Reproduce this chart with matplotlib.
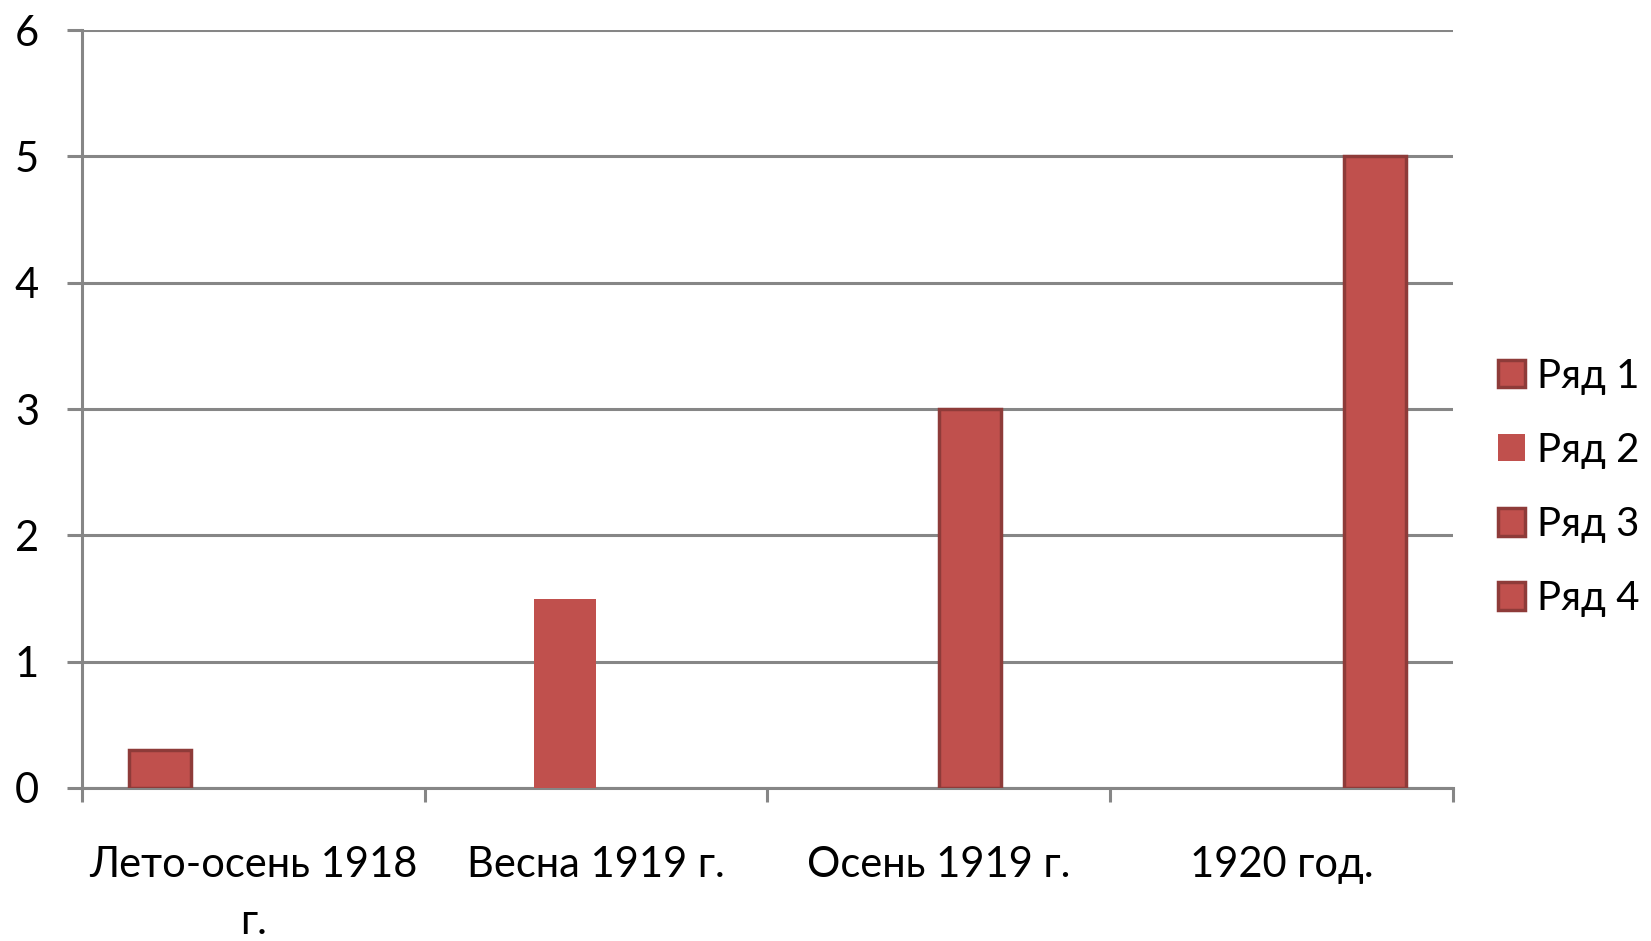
import numpy as np
import matplotlib.pyplot as plt
from matplotlib.patches import Patch

# data
categories = ['Лето-осень 1918\nг.', 'Весна 1919 г.', 'Осень 1919 г.', '1920 год.']
series_names = ['Ряд 1', 'Ряд 2', 'Ряд 3', 'Ряд 4']
ryad1 = [0.3, 0, 0, 0]
ryad2 = [0, 1.5, 0, 0]
ryad3 = [0, 0, 3, 0]
ryad4 = [0, 0, 0, 5]
y_ticks = [0, 1, 2, 3, 4, 5, 6]

plt.rcParams['font.family'] = ['Lato', 'DejaVu Sans']

face = '#C0504D'
edge = '#8E3B39'
grid_col = '#868686'

fig = plt.figure(figsize=(16.51, 9.41), dpi=100)
ax = fig.add_axes([0.0497, 0.1626, 0.8303, 0.8054])

w = 1 / 5.5
x = np.arange(len(categories)) + 0.5
all_series = [ryad1, ryad2, ryad3, ryad4]
edges = [edge, 'none', edge, edge]
for j, vals in enumerate(all_series):
    vals = np.array(vals, dtype=float)
    mask = vals > 0
    ax.bar(x[mask] + (j - 1.5) * w, vals[mask], width=w, color=face,
           edgecolor=edges[j], linewidth=2.5, zorder=3)

ax.set_xlim(0, 4)
ax.set_ylim(0, 6)
ax.set_yticks(y_ticks)
ax.yaxis.grid(True, color=grid_col, linewidth=2.2)
ax.set_axisbelow(True)
ax.tick_params(axis='y', length=11, width=2.2, color=grid_col, pad=20, labelsize=30)

ax.set_xticks(range(5))
ax.set_xticklabels([])
ax.set_xticks(x, minor=True)
ax.set_xticklabels(categories, minor=True, fontsize=30, linespacing=1.6)
ax.tick_params(axis='x', which='major', length=10, width=2.2, color=grid_col)
ax.tick_params(axis='x', which='minor', length=0, pad=42)

for s in ['top', 'right']:
    ax.spines[s].set_visible(False)
for s in ['left', 'bottom']:
    ax.spines[s].set_color(grid_col)
    ax.spines[s].set_linewidth(2.2)

handles = [Patch(facecolor=face, edgecolor=e, linewidth=2.5) for e in edges]
ax.legend(handles, series_names, loc='center left', bbox_to_anchor=(0.895, 0.482),
          bbox_transform=fig.transFigure, frameon=False, fontsize=29,
          handlelength=0.67, handleheight=0.67, handletextpad=0.3,
          labelspacing=0.92, borderpad=0)

fig.savefig('out.png', dpi=100)
